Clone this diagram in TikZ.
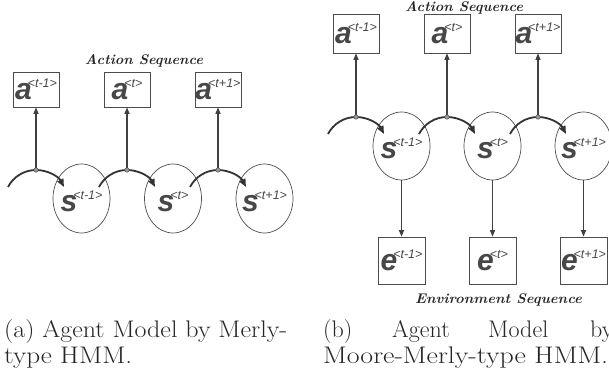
\documentclass[tikz,border=0pt]{standalone}
\usepackage{fontspec}
\usepackage{graphicx}
\usetikzlibrary{arrows.meta,shapes.geometric}
\newfontfamily\lblfont{Liberation Sans}

% variable with a sequence index, e.g. a^{<t-1>}
\newcommand\seqvar[2]{%
  {\lblfont\bfseries\itshape\fontsize{30}{30}\selectfont #1}%
  \kern-4pt\raisebox{12pt}{\lblfont\itshape\fontsize{12.5}{12.5}\selectfont <#2>}}
\newcommand\captext[1]{{\fontsize{24}{28}\selectfont #1}}
\newcommand\seqtitle[1]{{\fontsize{14}{14}\selectfont\bfseries\itshape #1}}

\begin{document}
\begin{tikzpicture}[x=1pt,y=-1pt,
  varbox/.style={draw=black!70, line width=0.7pt, inner sep=0pt,
    minimum width=46pt, text=black!72},
  state/.style={ellipse, draw=black!70, line width=0.7pt, inner sep=0pt,
    minimum width=57pt, minimum height=69pt},
  varlabel/.style={inner sep=0pt, text=black!72},
  junction/.style={circle, fill=black!40, draw=black!75, line width=0.4pt,
    inner sep=0pt, minimum size=4.5pt},
  emit/.style={draw=black!75, line width=1.2pt,
    -{Triangle[length=6.5pt,width=5pt]}},
  trans/.style={draw=black!80, line width=1.8pt,
    -{Triangle[length=8pt,width=6.5pt]}},
  caption/.style={anchor=base west, inner sep=0pt, text=black!85},
  title/.style={anchor=base, inner sep=0pt, text=black!85}
]
\useasboundingbox (0,0) rectangle (609,385);

% ---------- (a) Merly-type HMM ----------
\node[title] (titleA) at (144,65) {\resizebox{118pt}{\height}{\seqtitle{Action Sequence}}};
\foreach \i/\jx/\sx/\sp in {1/36/81.5/t-1, 2/127/173/t, 3/218/264.5/t+1}{
  \node[state] (sA\i) at (\sx,198.5) {};
  \node[varlabel] (lsA\i) at (\sx,201.5) {\seqvar{s}{\sp}};
  \coordinate (jA\i) at (\jx,170);
  \coordinate (fromA\i) at (\jx-28,187);
  \coordinate (toA\i) at (\jx+28,187);
  \draw[trans] (fromA\i) .. controls +(5.45,-10.4) and +(-11.8,0) .. (jA\i)
                .. controls +(11.8,0) and +(-5.45,-10.4) .. (toA\i);
  \node[junction] (dA\i) at (jA\i) {};
  \node[varbox, minimum height=35pt] (aA\i) at (\jx,89.5) {\seqvar{a}{\sp}};
  \draw[emit] (dA\i) -- (aA\i);
}

% ---------- (b) Moore-Merly-type HMM ----------
\node[title] (titleB) at (464,11.7) {\resizebox{118pt}{\height}{\seqtitle{Action Sequence}}};
\node[title] (titleE) at (498.5,303) {\resizebox{167pt}{\height}{\seqtitle{Environment Sequence}}};
\foreach \i/\jx/\sx/\sp in {1/356/401.5/t-1, 2/447/492.5/t, 3/538/583.5/t+1}{
  \node[state, minimum height=68pt] (sB\i) at (\sx,146) {};
  \node[varlabel] (lsB\i) at (\sx,148.5) {\seqvar{s}{\sp}};
  \coordinate (jB\i) at (\jx,117);
  \coordinate (fromB\i) at (\jx-28,134);
  \coordinate (toB\i) at (\jx+28,134);
  \draw[trans] (fromB\i) .. controls +(5.45,-10.4) and +(-11.8,0) .. (jB\i)
                .. controls +(11.8,0) and +(-5.45,-10.4) .. (toB\i);
  \node[junction] (dB\i) at (jB\i) {};
  \node[varbox, minimum height=39pt] (aB\i) at (\jx,33.5) {\seqvar{a}{\sp}};
  \draw[emit] (dB\i) -- (aB\i);
  \node[varbox, minimum width=47pt, minimum height=47pt] (eB\i) at (\sx,260.5) {\seqvar{e}{\sp}};
  \draw[emit] (sB\i) -- (eB\i);
}

% ---------- captions ----------
\node[caption] (capA1) at (4,337.7) {\resizebox{283pt}{\height}{\captext{(a) Agent Model by Merly-}}};
\node[caption] (capA2) at (4,363) {\resizebox{128pt}{\height}{\captext{type HMM.}}};
\node[caption] (capB1) at (323,337.7) {\captext{(b)}};
\node[caption] (capB2) at (392,337.7) {\captext{Agent}};
\node[caption] (capB3) at (488,337.7) {\captext{Model}};
\node[caption] (capB4) at (590,337.7) {\captext{by}};
\node[caption] (capB5) at (323,363) {\resizebox{285pt}{\height}{\captext{Moore-Merly-type HMM.}}};
\end{tikzpicture}
\end{document}
